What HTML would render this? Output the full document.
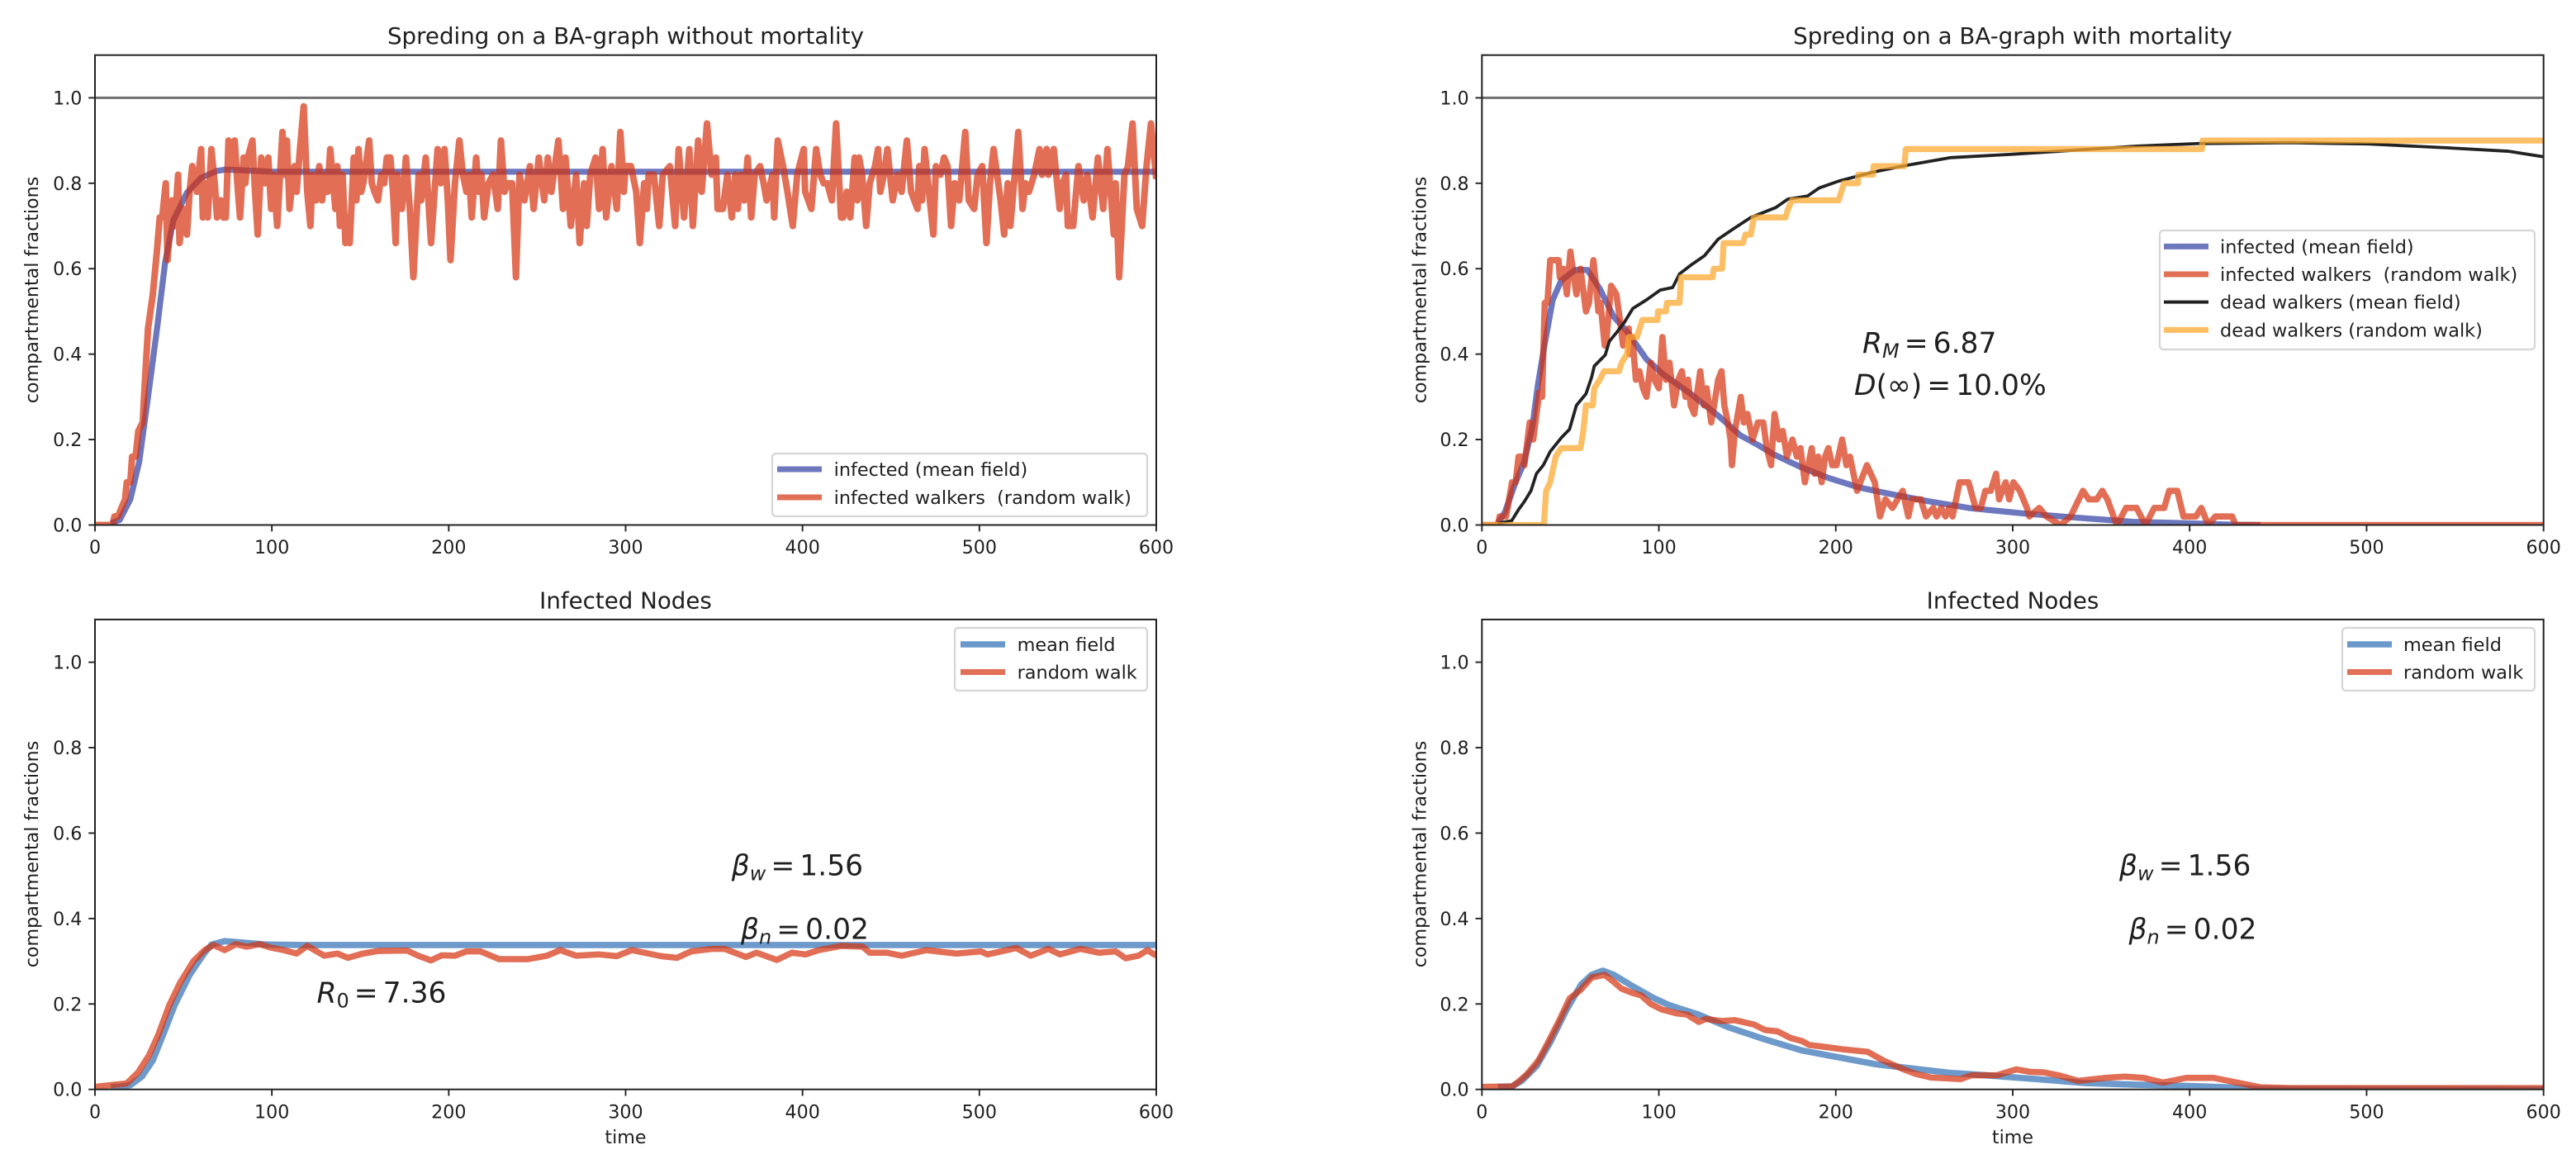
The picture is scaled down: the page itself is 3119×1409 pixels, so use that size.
<!DOCTYPE html>
<html lang="en">
<head>
<meta charset="utf-8">
<title>Spreading on a BA-graph</title>
<style>
html,body{margin:0;padding:0;background:#fff;}
svg{display:block;}
text{font-family:"DejaVu Sans","Liberation Sans",sans-serif;fill:#1f1f1f;}
.tick-label,.axis-label{font-size:22.2px;}
.legend-text{font-size:22.4px;white-space:pre;}
.title{font-size:27.7px;text-anchor:middle;}
.note{font-size:34.5px;}
.note .it{font-style:italic;}
.note .sub{font-size:24px;}
</style>
</head>
<body>
<svg id="figure" xmlns="http://www.w3.org/2000/svg" width="3119" height="1409" viewBox="0 0 3119 1409">
  <rect x="0" y="0" width="3119" height="1409" fill="#ffffff"/>
  <defs>
    <clipPath id="clip-a"><rect x="115" y="66.7" width="1285" height="568.8"/></clipPath>
    <clipPath id="clip-b"><rect x="1794.3" y="66.7" width="1285.4" height="568.8"/></clipPath>
    <clipPath id="clip-c"><rect x="115" y="750" width="1285" height="568.7"/></clipPath>
    <clipPath id="clip-d"><rect x="1794.3" y="750" width="1285.4" height="568.7"/></clipPath>
  </defs>

  <g id="lines-a" clip-path="url(#clip-a)"></g>
  <g id="lines-b" clip-path="url(#clip-b)"></g>
  <g id="lines-c" clip-path="url(#clip-c)"></g>
  <g id="lines-d" clip-path="url(#clip-d)"></g>
  <g id="axes"></g>

  <text class="title" x="757.5" y="53">Spreding on a BA-graph without mortality</text>
  <text class="title" x="2437" y="53">Spreding on a BA-graph with mortality</text>
  <text class="title" x="757.5" y="736.7">Infected Nodes</text>
  <text class="title" x="2437" y="736.7">Infected Nodes</text>

  <text class="axis-label" text-anchor="middle" transform="translate(46,351) rotate(-90)">compartmental fractions</text>
  <text class="axis-label" text-anchor="middle" transform="translate(1726.5,351) rotate(-90)">compartmental fractions</text>
  <text class="axis-label" text-anchor="middle" transform="translate(46,1034) rotate(-90)">compartmental fractions</text>
  <text class="axis-label" text-anchor="middle" transform="translate(1726.5,1034) rotate(-90)">compartmental fractions</text>
  <text class="axis-label" text-anchor="middle" x="757.5" y="1384">time</text>
  <text class="axis-label" text-anchor="middle" x="2437" y="1384">time</text>

  <g>
    <rect x="935" y="549" width="454" height="76" rx="4.4" fill="#ffffff" fill-opacity="0.8" stroke="#d6d6d6" stroke-width="2.2"/>
    <line x1="941" x2="995" y1="568" y2="568" stroke="#6d78bd" stroke-width="7"/>
    <text class="legend-text" x="1009.6" y="576">infected (mean field)</text>
    <line x1="941" x2="995" y1="602" y2="602" stroke="#e27057" stroke-width="7"/>
    <text class="legend-text" x="1009.6" y="610" xml:space="preserve">infected walkers  (random walk)</text>
  </g>

  <g>
    <rect x="2615" y="279" width="454" height="144" rx="4.4" fill="#ffffff" fill-opacity="0.8" stroke="#d6d6d6" stroke-width="2.2"/>
    <line x1="2620" x2="2674" y1="298.4" y2="298.4" stroke="#6d78bd" stroke-width="7"/>
    <text class="legend-text" x="2688" y="306.4">infected (mean field)</text>
    <line x1="2620" x2="2674" y1="332" y2="332" stroke="#e27057" stroke-width="7"/>
    <text class="legend-text" x="2688" y="340" xml:space="preserve">infected walkers  (random walk)</text>
    <line x1="2620" x2="2674" y1="365.6" y2="365.6" stroke="#222222" stroke-width="4"/>
    <text class="legend-text" x="2688" y="373.6">dead walkers (mean field)</text>
    <line x1="2620" x2="2674" y1="399.4" y2="399.4" stroke="#fdbe64" stroke-width="7"/>
    <text class="legend-text" x="2688" y="407.4">dead walkers (random walk)</text>
  </g>

  <g>
    <rect x="1156" y="760" width="233" height="76" rx="4.4" fill="#ffffff" fill-opacity="0.8" stroke="#d6d6d6" stroke-width="2.2"/>
    <line x1="1163" x2="1217" y1="780" y2="780" stroke="#6b98cb" stroke-width="7.5"/>
    <text class="legend-text" x="1231.6" y="788">mean field</text>
    <line x1="1163" x2="1217" y1="813.5" y2="813.5" stroke="#e27057" stroke-width="7"/>
    <text class="legend-text" x="1231.6" y="821.5">random walk</text>
  </g>

  <g>
    <rect x="2836" y="760" width="233" height="76" rx="4.4" fill="#ffffff" fill-opacity="0.8" stroke="#d6d6d6" stroke-width="2.2"/>
    <line x1="2842" x2="2896" y1="780" y2="780" stroke="#6b98cb" stroke-width="7.5"/>
    <text class="legend-text" x="2910" y="788">mean field</text>
    <line x1="2842" x2="2896" y1="813.5" y2="813.5" stroke="#e27057" stroke-width="7"/>
    <text class="legend-text" x="2910" y="821.5">random walk</text>
  </g>

  <text class="note" x="2255" y="427"><tspan class="it">R</tspan><tspan class="it sub" dy="6">M</tspan><tspan dx="6" dy="-6">=</tspan><tspan dx="6">6.87</tspan></text>
  <text class="note" x="2245" y="478"><tspan class="it">D</tspan><tspan>(∞)</tspan><tspan dx="6">=</tspan><tspan dx="6">10.0%</tspan></text>
  <text class="note" x="885.7" y="1059.3"><tspan class="it">β</tspan><tspan class="it sub" dy="6">w</tspan><tspan dx="6" dy="-6">=</tspan><tspan dx="6">1.56</tspan></text>
  <text class="note" x="897" y="1136.7"><tspan class="it">β</tspan><tspan class="it sub" dy="6">n</tspan><tspan dx="6" dy="-6">=</tspan><tspan dx="6">0.02</tspan></text>
  <text class="note" x="383.5" y="1213.3"><tspan class="it">R</tspan><tspan class="sub" dy="6">0</tspan><tspan dx="6" dy="-6">=</tspan><tspan dx="6">7.36</tspan></text>
  <text class="note" x="2566" y="1059.3"><tspan class="it">β</tspan><tspan class="it sub" dy="6">w</tspan><tspan dx="6" dy="-6">=</tspan><tspan dx="6">1.56</tspan></text>
  <text class="note" x="2577.5" y="1136.7"><tspan class="it">β</tspan><tspan class="it sub" dy="6">n</tspan><tspan dx="6" dy="-6">=</tspan><tspan dx="6">0.02</tspan></text>
</svg>

<script>
const xTickValues = [0, 100, 200, 300, 400, 500, 600];
const xTickLabels = ['0', '100', '200', '300', '400', '500', '600'];
const yTickValues = [0, 0.2, 0.4, 0.6, 0.8, 1.0];
const yTickLabels = ['0.0', '0.2', '0.4', '0.6', '0.8', '1.0'];

// Top-left: infected, no mortality
const aMeanTime = [9,14,20,25,30,35,39.7,44.3,52,60,69,74,85,100,600];
const aMeanValue = [0.004,0.012,0.06,0.148,0.30,0.457,0.616,0.713,0.778,0.813,0.829,0.832,0.83,0.827,0.827];
const aWalkTime = [
0,10,11,13,15,17,18,20,21,23,
24.5,27,28,30,32.7,35,36.6,38,40,41,
43.6,45,47,47.8,50,52,53.5,55,57.6,60,
61,62.5,63.8,65.8,67.7,69,71,72.5,74,75.5,
77,79,80.5,82,84,85,86.4,89,90.5,92,
94,96,98,99.6,101,103,106,107,108.5,110,
111.5,112.8,114,115.5,118,120,121.8,123,125,126.8,
128.4,130,131.5,133,135.9,137,138.5,140,141.6,143,
144,146.3,147.8,149,150.5,151.7,153,155,156.5,158,
160,161.8,163.5,165,167,168.5,170,171,172,173.5,
175.8,178,180,183,184.4,187,188.5,190,192,193.7,
195.5,197.6,199.5,201,203.5,206,208,210,211.5,213,
215.5,217,218.5,220,222.5,225,227.7,229.5,231.5,233.4,
235.8,238,240,242.8,245.9,248,250.9,254,256,258,
260,262,264.6,266,269,272,274,276.5,278,280,
283,285,287,289,292,295,297,299,300,303,
306,308,310.5,312,313,316,319,321,325,328,
330,333,336,338,341,343,346,348.6,351,352,
355,357.5,360,362,363.4,365,367,369,371,373,
376,378,379.7,383,384,386,389,391.5,394.5,397,
400.7,401.5,405,407.7,410,412,414,416.6,419,421.8,
423,425,427,429.5,431,432,433.7,436,438,441,
442.7,444,446,448,451,453.6,456,459,461.4,465,
466,467.6,469,471,474,475.4,478,480,482,484,
486,488.6,492,494,497,499,501.6,504,506,508,
510,512,514,516,517.5,520,522,524.4,526,528,
531,534,535.4,538,539,542,545.4,547,549,550,
553,556,559,561,564,567,570,572.4,576,577,
579,582,584,586.6,589,592,594.5,597,600];
const aWalkValue = [
0,0,.02,.02,.04,.06,.10,.10,.16,.16,
.22,.24,.32,.46,.54,.64,.72,.72,.80,.62,
.76,.70,.82,.66,.74,.68,.78,.84,.78,.88,
.72,.80,.72,.88,.80,.72,.76,.72,.72,.90,
.84,.90,.80,.72,.86,.80,.86,.90,.78,.68,
.86,.80,.86,.74,.82,.70,.92,.82,.90,.74,
.80,.84,.78,.86,.98,.78,.70,.82,.76,.84,
.76,.82,.78,.88,.74,.84,.70,.82,.66,.72,
.66,.86,.76,.88,.78,.80,.84,.90,.80,.78,
.76,.82,.80,.86,.86,.78,.66,.82,.76,.74,
.86,.74,.58,.82,.76,.86,.76,.66,.78,.88,
.80,.88,.76,.62,.80,.90,.82,.78,.82,.72,
.86,.78,.82,.72,.80,.82,.74,.90,.78,.80,
.80,.58,.82,.76,.84,.74,.86,.76,.86,.78,
.84,.90,.74,.86,.70,.82,.66,.80,.70,.82,
.86,.74,.88,.72,.84,.74,.92,.78,.84,.84,
.78,.66,.80,.74,.82,.82,.70,.82,.84,.70,
.88,.72,.88,.70,.90,.78,.94,.82,.86,.74,
.74,.82,.72,.82,.74,.82,.76,.86,.72,.82,
.84,.80,.76,.82,.72,.90,.84,.78,.70,.82,
.88,.78,.74,.88,.82,.80,.80,.76,.94,.72,
.72,.78,.72,.86,.76,.86,.82,.70,.80,.84,
.88,.78,.82,.88,.76,.82,.78,.90,.78,.74,
.84,.76,.88,.80,.68,.84,.82,.86,.84,.70,
.80,.76,.92,.76,.74,.82,.84,.66,.80,.88,
.82,.76,.68,.80,.70,.82,.92,.74,.80,.78,
.82,.88,.82,.88,.82,.88,.74,.80,.82,.70,
.70,.84,.76,.82,.72,.86,.74,.88,.68,.80,
.58,.82,.84,.94,.74,.70,.84,.94,.81];

// Top-right: infected and dead, with mortality
const bMeanTime = [9,13,19,23.8,28.5,31.6,35.5,40,44.8,52.6,59.6,66.6,74.4,82,93,102.4,118,133.5,146,157,164.6,180,196,213,228,251.8,275,306,337,368,399,423,440];
const bMeanValue = [0.004,0.03,0.10,0.146,0.23,0.327,0.424,0.527,0.572,0.597,0.597,0.553,0.488,0.453,0.388,0.353,0.307,0.256,0.21,0.185,0.166,0.136,0.11,0.088,0.075,0.056,0.04,0.027,0.017,0.0075,0.004,0.001,0];
const bWalkTime = [
0,9,10,13.7,17,19,20.7,23,24,27,
29,32.4,34,35.5,37,38.6,43.3,44,46,48,
50,52,53.4,55.7,58.8,60.5,63,65,65.8,67,
69.4,70.5,73,76,78,79.8,83,83.5,85,87,
89,91,93,95.4,97.5,100,102,104,106,108.6,
111,113,115,116.5,118,120,122,123.4,125.5,127,
129.6,132,133.5,135.4,137,139,140.5,141.3,143,146.3,
148,150,153,156,159,161,163.4,165.4,168,170,
172.4,175.5,178,180,182.5,186.4,188,190,192,194,
195.8,198,200.4,203.6,206,208,212,217.6,222,225,
228,232,237.8,241,243,248,251,255,257,259.5,
262,264,266,270,275,279,282,284.5,287.5,290.6,
292.3,296,298,300.4,304,308,309.4,315,319,327,
332.7,335,339.7,343,347.5,350.6,353.5,357,359,364,
370,375,380,385.6,388.4,393,396.5,403.5,406.6,410.5,
414.5,424,426,600];
const bWalkValue = [
0,0,.02,.02,.10,.10,.16,.16,.14,.24,
.20,.31,.30,.52,.52,.62,.62,.58,.60,.54,
.64,.58,.54,.60,.50,.52,.62,.54,.50,.52,
.42,.44,.56,.54,.48,.42,.46,.40,.44,.34,
.36,.32,.30,.38,.34,.32,.44,.34,.38,.28,
.34,.36,.30,.34,.28,.26,.32,.36,.28,.32,
.24,.30,.34,.36,.28,.24,.20,.14,.22,.30,
.24,.26,.20,.24,.24,.18,.14,.26,.20,.22,
.16,.20,.16,.18,.10,.18,.12,.16,.10,.16,
.18,.14,.14,.20,.14,.16,.08,.14,.10,.02,
.06,.04,.08,.02,.06,.06,.02,.04,.02,.04,
.02,.04,.02,.10,.10,.04,.04,.08,.08,.12,
.06,.10,.06,.10,.08,.04,.02,.04,.02,0,
.02,.04,.08,.06,.06,.08,.06,.02,0,.04,
.04,0,.04,.04,.08,.08,.02,.02,.04,0,
.02,.02,0,0];
const bDeadMeanTime = [9,16.8,20.7,24,27.7,30.8,34.7,38.6,44.8,49.5,53.4,58.8,62,63.5,69.7,72,76,80.6,85.3,93,100.8,107.8,111.7,118,125.7,133.5,141.3,152,166,173,184,190.6,201.6,221,238.7,265,300,326,370,405,457,501,545,580,600];
const bDeadMeanValue = [0.004,0.01,0.036,0.055,0.08,0.12,0.14,0.172,0.204,0.224,0.28,0.307,0.346,0.372,0.398,0.43,0.45,0.475,0.507,0.527,0.55,0.556,0.588,0.608,0.63,0.669,0.691,0.72,0.743,0.763,0.77,0.789,0.805,0.826,0.841,0.86,0.868,0.875,0.887,0.893,0.895,0.892,0.883,0.875,0.862];
const bDeadWalkTime = [0,35,36.3,38.6,41.7,44.8,55.7,57.3,58.8,62.7,63.5,66.6,69,77.5,79,82,83,87.6,90.7,99.3,99.5,104,104.5,111.7,112.5,130.4,131,135.8,136.6,147.5,149,152,153.7,171.6,173,175.3,201.6,204.6,212.5,212.6,221,221.3,238.7,239.6,407,407.2,600];
const bDeadWalkValue = [0,0,0.08,0.10,0.16,0.18,0.18,0.22,0.28,0.28,0.32,0.34,0.36,0.36,0.38,0.40,0.44,0.44,0.48,0.48,0.50,0.50,0.52,0.52,0.58,0.58,0.60,0.60,0.66,0.66,0.68,0.68,0.72,0.72,0.74,0.76,0.76,0.80,0.80,0.82,0.82,0.84,0.84,0.88,0.88,0.90,0.90];

// Bottom-left: infected nodes, no mortality
const cMeanTime = [9,14,20,26.5,32.7,39,45,53.5,62,66,73.3,82.7,97,118,600];
const cMeanValue = [0.006,0.006,0.01,0.03,0.068,0.133,0.197,0.268,0.32,0.339,0.347,0.344,0.339,0.338,0.338];
const cWalkTime = [0,18,24.4,30.6,36,42,48,55.6,62,67,73.3,79.6,85.8,93,99.4,106.7,114,120,129.6,137,143,151.5,160,176.5,182.7,190,196,203.5,210,218,228.5,245,255.6,263,272,285,295,303.5,320,329,337,349,356,368,374,385.5,394,401.7,409,422,434,438,447.5,456,470,487,500.8,504.6,520.8,529,539,545.5,557,567.5,577,582.7,590,595,600];
const cWalkValue = [0.006,0.014,0.04,0.08,0.13,0.197,0.249,0.30,0.326,0.338,0.326,0.34,0.334,0.34,0.332,0.326,0.318,0.336,0.313,0.318,0.308,0.318,0.324,0.325,0.313,0.302,0.314,0.313,0.323,0.323,0.305,0.305,0.313,0.326,0.313,0.316,0.312,0.326,0.312,0.308,0.323,0.329,0.329,0.31,0.32,0.303,0.32,0.316,0.326,0.336,0.334,0.32,0.32,0.313,0.326,0.318,0.323,0.316,0.331,0.313,0.329,0.316,0.329,0.32,0.323,0.307,0.313,0.326,0.313];

// Bottom-right: infected nodes, with mortality
const dMeanTime = [9,17,22.5,31,39,47.5,56,62,68.3,74.6,85,97.5,106,122.5,139,160,181,201.7,222.5,243,264,285,320,340,370,400,426,440,600];
const dMeanValue = [0.006,0.007,0.02,0.055,0.113,0.184,0.245,0.268,0.278,0.268,0.242,0.213,0.197,0.175,0.146,0.117,0.091,0.075,0.059,0.049,0.039,0.033,0.022,0.015,0.011,0.008,0.004,0.001,0];
const dWalkTime = [0,17,20.4,25.6,32,37,43.3,49.6,55.8,62,69.4,73.5,78.8,85,90,95.4,101.7,110,116,122.5,126.7,135,143,153.7,160,167,174.6,181,185,193,203.7,218,226.7,237,245.4,253.7,270.4,276.7,291,302,310,317.4,326,337,352.4,363.4,374,385,398,413.6,426.7,440,457,600];
const dWalkValue = [0.006,0.007,0.017,0.036,0.068,0.107,0.158,0.213,0.233,0.262,0.268,0.255,0.236,0.226,0.22,0.2,0.187,0.178,0.175,0.158,0.165,0.16,0.162,0.152,0.139,0.136,0.12,0.113,0.104,0.1,0.094,0.088,0.068,0.049,0.036,0.028,0.024,0.033,0.033,0.047,0.041,0.04,0.033,0.02,0.027,0.03,0.027,0.016,0.027,0.027,0.016,0.005,0.003,0.003];

const referenceTime = [0, 600];
const referenceValue = [1, 1];

const SVG_NS = 'http://www.w3.org/2000/svg';
const panelBox = {
  a: {left: 115, right: 1400, bottom: 635.5},
  b: {left: 1794.3, right: 3079.7, bottom: 635.5},
  c: {left: 115, right: 1400, bottom: 1318.7},
  d: {left: 1794.3, right: 3079.7, bottom: 1318.7}
};
const X_MAX = 600;
const Y_MAX = 1.1;
const PLOT_HEIGHT = 568.8;

function xScale(panel, t) {
  const b = panelBox[panel];
  return b.left + (t / X_MAX) * (b.right - b.left);
}
function yScale(panel, v) {
  return panelBox[panel].bottom - (v / Y_MAX) * PLOT_HEIGHT;
}

function drawSeries(panel, times, values, color, opacity, width, name) {
  const pts = times.map(function (t, i) {
    return xScale(panel, t).toFixed(2) + ',' + yScale(panel, values[i]).toFixed(2);
  }).join(' ');
  const el = document.createElementNS(SVG_NS, 'polyline');
  
  
  el.setAttribute('points', pts);
  el.setAttribute('fill', 'none');
  el.setAttribute('stroke', color);
  el.setAttribute('stroke-opacity', opacity);
  el.setAttribute('stroke-width', width);
  el.setAttribute('stroke-linejoin', 'round');
  el.setAttribute('stroke-linecap', 'butt');
  document.getElementById('lines-' + panel).appendChild(el);
}

const blueA = '#3c4aa8';
const blueB = '#3c78b8';
const redC = 'rgb(213,51,15)';
const redAlpha = 0.71;
const blueAlpha = 0.75;
const yellowC = 'rgb(252,170,50)';

drawSeries('a', referenceTime, referenceValue, '#6f6f6f', 1, 3, 'reference-line-one');
drawSeries('a', aMeanTime, aMeanValue, blueA, blueAlpha, 7.3, 'infected-mean-field-line');
drawSeries('a', aWalkTime, aWalkValue, redC, redAlpha, 8, 'infected-walkers-line');

drawSeries('b', referenceTime, referenceValue, '#6f6f6f', 1, 3, 'reference-line-one');
drawSeries('b', bMeanTime, bMeanValue, blueA, blueAlpha, 7.3, 'infected-mean-field-line');
drawSeries('b', bWalkTime, bWalkValue, redC, redAlpha, 7.6, 'infected-walkers-line');
drawSeries('b', bDeadMeanTime, bDeadMeanValue, '#222222', 1, 3.8, 'dead-mean-field-line');
drawSeries('b', bDeadWalkTime, bDeadWalkValue, yellowC, 0.75, 7.3, 'dead-walkers-line');

drawSeries('c', cMeanTime, cMeanValue, blueB, blueAlpha, 7.7, 'nodes-mean-field-line');
drawSeries('c', cWalkTime, cWalkValue, redC, redAlpha, 7.5, 'nodes-random-walk-line');

drawSeries('d', dMeanTime, dMeanValue, blueB, blueAlpha, 7.7, 'nodes-mean-field-line');
drawSeries('d', dWalkTime, dWalkValue, redC, redAlpha, 7.5, 'nodes-random-walk-line');

const axesGroup = document.getElementById('axes');
const TICK_LEN = 7.8;
const LABEL_GAP = 15.6;

Object.keys(panelBox).forEach(function (panel) {
  const b = panelBox[panel];

  const frame = document.createElementNS(SVG_NS, 'rect');
  
  
  frame.setAttribute('x', b.left);
  frame.setAttribute('y', b.bottom - PLOT_HEIGHT);
  frame.setAttribute('width', b.right - b.left);
  frame.setAttribute('height', PLOT_HEIGHT);
  frame.setAttribute('fill', 'none');
  frame.setAttribute('stroke', '#222222');
  frame.setAttribute('stroke-width', 2);
  axesGroup.appendChild(frame);

  xTickValues.forEach(function (v, i) {
    const x = xScale(panel, v);
    const tick = document.createElementNS(SVG_NS, 'line');
    
    
    tick.setAttribute('x1', x);
    tick.setAttribute('x2', x);
    tick.setAttribute('y1', b.bottom);
    tick.setAttribute('y2', b.bottom + TICK_LEN);
    tick.setAttribute('stroke', '#222222');
    tick.setAttribute('stroke-width', 1.9);
    axesGroup.appendChild(tick);

    const label = document.createElementNS(SVG_NS, 'text');
    
    
    label.setAttribute('class', 'tick-label');
    label.setAttribute('text-anchor', 'middle');
    label.setAttribute('x', x);
    label.setAttribute('y', b.bottom + 34.6);
    label.textContent = xTickLabels[i];
    axesGroup.appendChild(label);
  });

  yTickValues.forEach(function (v, i) {
    const y = yScale(panel, v);
    const tick = document.createElementNS(SVG_NS, 'line');
    
    
    tick.setAttribute('x1', b.left - TICK_LEN);
    tick.setAttribute('x2', b.left);
    tick.setAttribute('y1', y);
    tick.setAttribute('y2', y);
    tick.setAttribute('stroke', '#222222');
    tick.setAttribute('stroke-width', 1.9);
    axesGroup.appendChild(tick);

    const label = document.createElementNS(SVG_NS, 'text');
    
    
    label.setAttribute('class', 'tick-label');
    label.setAttribute('text-anchor', 'end');
    label.setAttribute('x', b.left - LABEL_GAP);
    label.setAttribute('y', y + 8);
    label.textContent = yTickLabels[i];
    axesGroup.appendChild(label);
  });
});
</script>
</body>
</html>
